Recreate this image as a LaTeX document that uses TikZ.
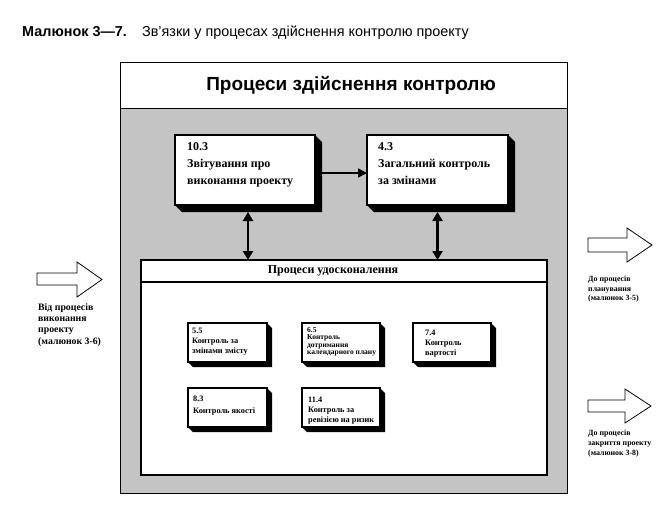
\documentclass[tikz,border=0pt]{standalone}
\usepackage{fontspec}
\setmainfont{Liberation Serif}
\newfontfamily\arialf{Liberation Sans}
\usetikzlibrary{arrows.meta,calc}
\newcommand\boxshadow[2]{%
  \fill[black] (#1.north east) -- ++(#2,#2) -- ([shift={(#2,#2)}]#1.south east)
    -- ([shift={(#2,#2)}]#1.south west) -- (#1.south west) -- (#1.south east) -- cycle;}
\begin{document}
\begin{tikzpicture}[x=1pt,y=-1pt,
  bigbox/.style={draw, line width=1.4pt, fill=white, anchor=north west, inner sep=0pt, outer sep=0pt},
  smallbox/.style={draw, line width=1.3pt, fill=white, anchor=north west, inner sep=0pt, outer sep=0pt, minimum width=79pt, minimum height=39pt},
  bigtext/.style={anchor=north west, inner sep=0pt, align=left, font=\bfseries\fontsize{12}{17}\selectfont},
  smalltext/.style={anchor=north west, inner sep=0pt, align=left, font=\bfseries\fontsize{8.3}{10}\selectfont},
  sidetext/.style={anchor=north west, inner sep=0pt, align=left},
  blockarrow/.style={draw, line width=0.8pt, fill=white, line join=miter},
  dblarrow/.style={line width=2.4pt, {Triangle[width=10pt,length=9pt]}-{Triangle[width=10pt,length=9pt]}},
  onearrow/.style={line width=1.6pt, -{Triangle[width=9pt,length=9pt]}}
]
\useasboundingbox (0,0) rectangle (670,512);
\fill[white] (0,0) rectangle (670,512);

% caption
\node[anchor=west, inner sep=0pt, font=\arialf\fontsize{14.4}{16}\selectfont] (cap) at (22,33)
  {\textbf{Малюнок 3—7.}\hspace{1.05em}Зв’язки у процесах здійснення контролю проекту};

% outer container
\node[draw, line width=0.9pt, anchor=north west, inner sep=0pt, outer sep=0pt,
  minimum width=447pt, minimum height=431pt] (outer) at (120,62) {};
\fill[black!23] ([yshift=-46pt]outer.north west) rectangle (outer.south east);
\draw[line width=0.9pt] (outer.north west) rectangle (outer.south east);
\draw[line width=0.9pt] ([yshift=-46pt]outer.north west) -- ([yshift=-46pt]outer.north east);
\node[inner sep=0pt, font=\arialf\bfseries\fontsize{19}{22}\selectfont] (title) at (351,85)
  {Процеси здійснення контролю};

% top boxes
\node[bigbox, minimum width=140pt, minimum height=70pt] (b103) at (175,135) {};
\boxshadow{b103}{7}
\node[bigtext] (t103) at (187,142) {10.3\\Звітування про\\виконання проекту};

\node[bigbox, minimum width=141pt, minimum height=70pt] (b43) at (367,135) {};
\boxshadow{b43}{7}
\node[bigtext] (t43) at (378,142) {4.3\\Загальний контроль\\за змінами};

\draw[onearrow] ([yshift=-3pt]b103.east) -- ([yshift=-3pt]b43.west);

% improvement processes
\node[draw, line width=1.3pt, fill=white, anchor=north west, inner sep=0pt, outer sep=0pt,
  minimum width=406pt, minimum height=215pt] (imp) at (141,260) {};
\draw[line width=1.1pt] ([yshift=-22pt]imp.north west) -- ([yshift=-22pt]imp.north east);
\node[inner sep=0pt, font=\bfseries\fontsize{12}{14}\selectfont] (imptitle) at (333,271)
  {Процеси удосконалення};

\draw[dblarrow] ([shift={(3pt,-7pt)}]b103.south) -- ([xshift=3pt]b103.south |- imp.north);
\draw[dblarrow] ([shift={(0pt,-7pt)}]b43.south) -- (b43.south |- imp.north);

% small boxes
\node[smallbox] (b55) at (188,323) {};
\boxshadow{b55}{5}
\node[smalltext] (t55) at (192,328) {5.5\\Контроль за\\змінами змісту};

\node[smallbox, minimum width=78pt] (b65) at (302,323) {};
\boxshadow{b65}{5}
\node[smalltext, font=\bfseries\fontsize{7.5}{7.5}\selectfont] (t65) at (307,327)
  {6.5\\Контроль\\дотримання\\календарного плану};

\node[smallbox, minimum width=78pt] (b74) at (413,323) {};
\boxshadow{b74}{5}
\node[smalltext] (t74) at (425,330) {7.4\\Контроль\\вартості};

\node[smallbox] (b83) at (188,388) {};
\boxshadow{b83}{5}
\node[smalltext, font=\bfseries\fontsize{8.3}{12}\selectfont] (t83) at (193,396) {8.3\\Контроль якості};

\node[smallbox, minimum width=78pt] (b114) at (302,388) {};
\boxshadow{b114}{5}
\node[smalltext] (t114) at (308,397) {11.4\\Контроль за\\ревізією на ризик};

% block arrows
\draw[blockarrow] (37,273) -- (77,273) -- (77,262) -- (102,279.5) -- (77,297) -- (77,285) -- (37,285) -- cycle;
\draw[blockarrow] (588,238) -- (627,238) -- (627,228) -- (652,245) -- (627,262) -- (627,252) -- (588,252) -- cycle;
\draw[blockarrow] (588,400) -- (625,400) -- (625,389) -- (651,406) -- (625,423) -- (625,412) -- (588,412) -- cycle;

\node[sidetext, font=\bfseries\fontsize{9.8}{11.4}\selectfont] (lin) at (38,303)
  {Від процесів\\виконання\\проекту\\(малюнок 3-6)};
\node[sidetext, font=\bfseries\fontsize{7.9}{9.6}\selectfont] (rout1) at (588,276)
  {До процесів\\планування\\(малюнок 3-5)};
\node[sidetext, font=\bfseries\fontsize{7.9}{9.7}\selectfont] (rout2) at (588,430)
  {До процесів\\закриття проекту\\(малюнок 3-8)};
\end{tikzpicture}
\end{document}
